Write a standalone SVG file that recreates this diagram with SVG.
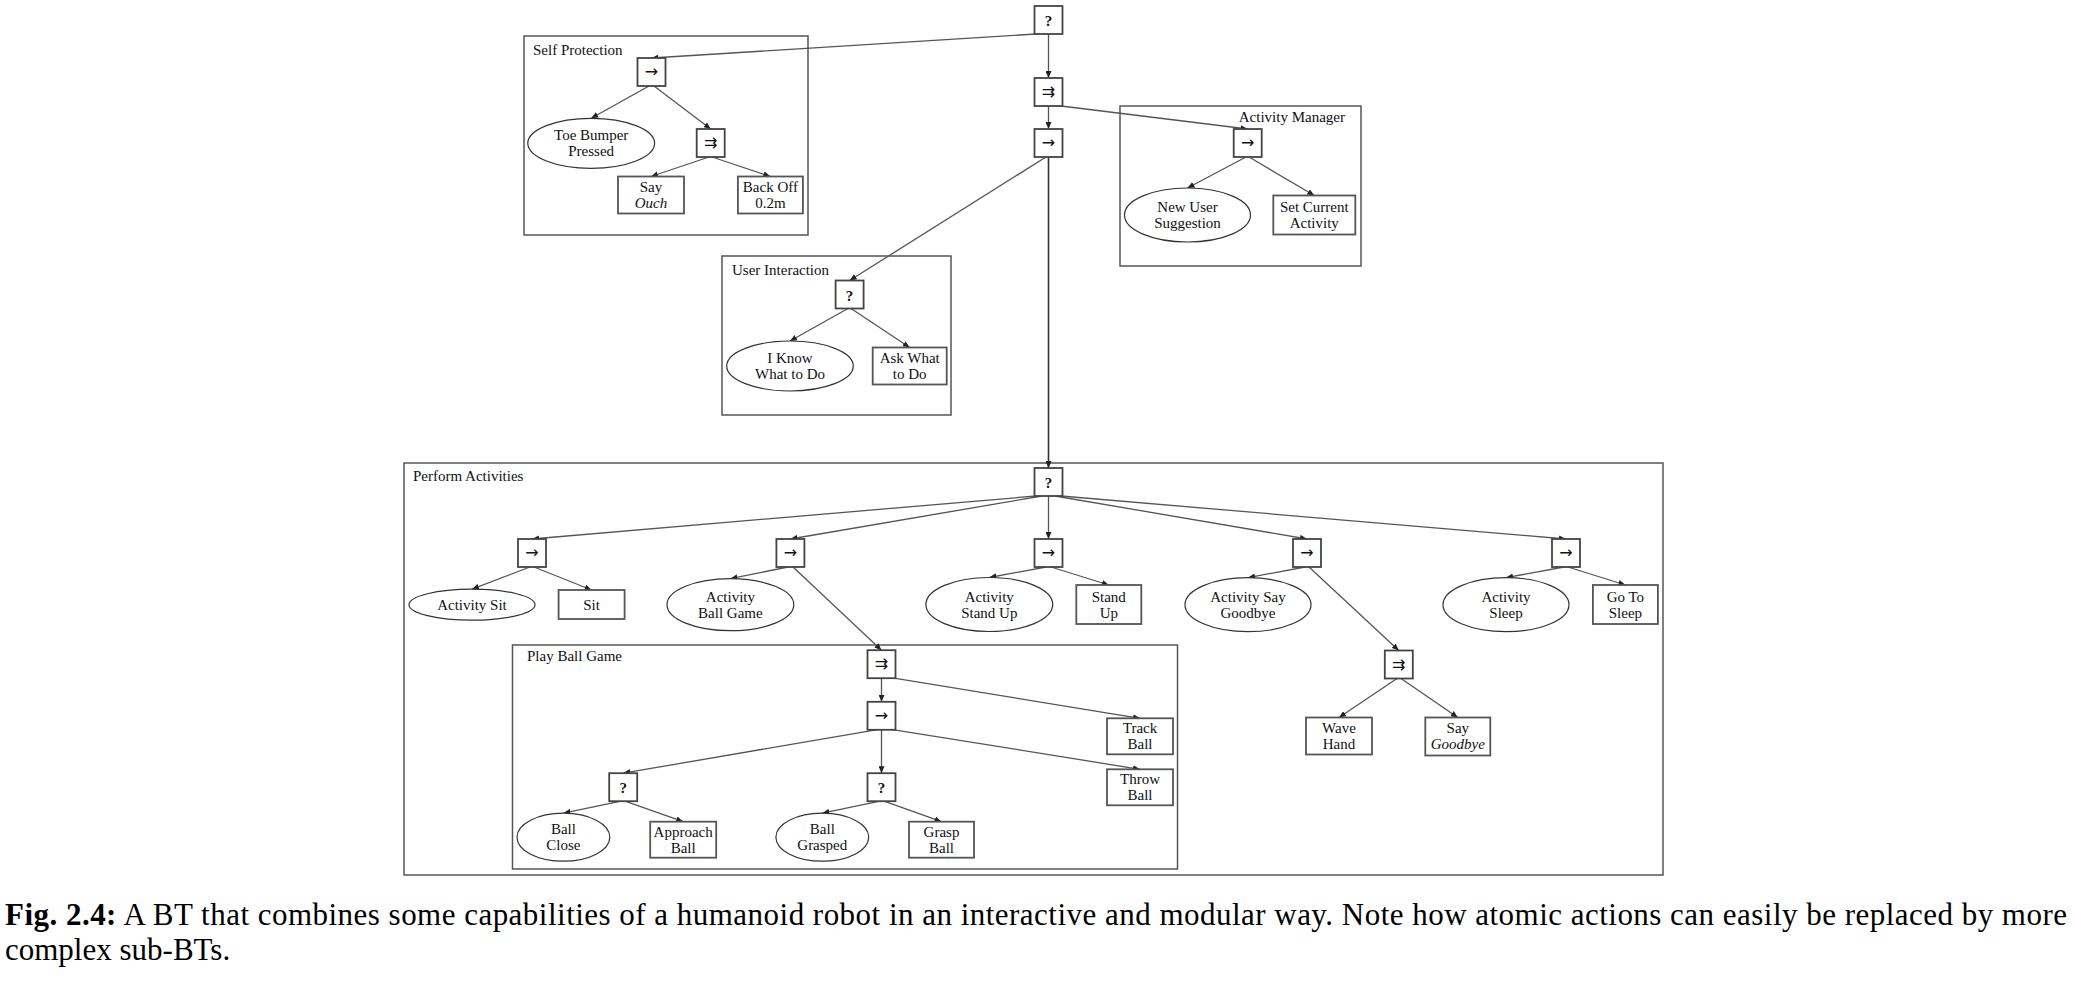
<svg xmlns="http://www.w3.org/2000/svg" width="2075" height="985" viewBox="0 0 2075 985">
<defs>
<marker id="ah" markerUnits="userSpaceOnUse" markerWidth="8" markerHeight="6" refX="7" refY="3" orient="auto">
<path d="M0,0 L7,3 L0,6 z" fill="#222"/>
</marker>
<style>
.frame{fill:none;stroke:#555;stroke-width:1.5}
.ctl{fill:#fff;stroke:#444;stroke-width:1.8}
.leaf{fill:#fff;stroke:#555;stroke-width:1.8}
.cond{fill:#fff;stroke:#333;stroke-width:1.2}
.t{font-family:"Liberation Serif",serif;font-size:15px;fill:#111;text-anchor:middle}
.fl{font-family:"Liberation Serif",serif;font-size:15px;fill:#111}
.sym{font-family:"DejaVu Sans",sans-serif;font-size:16px;fill:#111;text-anchor:middle}
.q{font-family:"Liberation Serif",serif;font-size:15px;font-weight:bold;fill:#111;text-anchor:middle}
.e{fill:none;stroke:#555;stroke-width:1.3;marker-end:url(#ah)}
.cap{font-family:"Liberation Serif",serif;font-size:31px;fill:#000}
</style>
</defs>

<g id="frames">
<rect class="frame" x="524" y="36" width="284" height="199"/>
<text class="fl" x="533" y="55">Self Protection</text>
<rect class="frame" x="1120" y="106" width="241" height="160"/>
<text class="fl" x="1345" y="122" text-anchor="end">Activity Manager</text>
<rect class="frame" x="722" y="256" width="229" height="159"/>
<text class="fl" x="732" y="275">User Interaction</text>
<rect class="frame" x="404" y="463" width="1259" height="412"/>
<text class="fl" x="413" y="481">Perform Activities</text>
<rect class="frame" x="512.5" y="645" width="665" height="224"/>
<text class="fl" x="527" y="661">Play Ball Game</text>
</g>

<g id="connectors">
<line class="e" x1="1036" y1="34" x2="651.5" y2="58"/>
<line class="e" x1="1048.5" y1="34" x2="1048.5" y2="78"/>
<line class="e" x1="1048.5" y1="106" x2="1048.5" y2="129"/>
<line class="e" x1="1061" y1="106" x2="1247.7" y2="129"/>
<line class="e" x1="1046" y1="157" x2="849.6" y2="280.5"/>
<line class="e" x1="1048.5" y1="157" x2="1048.5" y2="468" style="stroke:#333;stroke-width:1.6"/>
<line class="e" x1="649" y1="86" x2="591.2" y2="118.3"/>
<line class="e" x1="654" y1="86" x2="710.7" y2="129"/>
<line class="e" x1="709" y1="157" x2="651" y2="176.5"/>
<line class="e" x1="712" y1="157" x2="770.4" y2="176.5"/>
<line class="e" x1="1246" y1="157" x2="1187.5" y2="188"/>
<line class="e" x1="1249" y1="157" x2="1314.3" y2="195.5"/>
<line class="e" x1="848" y1="308.5" x2="790" y2="341"/>
<line class="e" x1="851" y1="308.5" x2="909.7" y2="347.5"/>
<line class="e" x1="1036" y1="496" x2="532" y2="539"/>
<line class="e" x1="1042" y1="496" x2="790.4" y2="539"/>
<line class="e" x1="1048.5" y1="496" x2="1048.5" y2="539"/>
<line class="e" x1="1055" y1="496" x2="1307" y2="539"/>
<line class="e" x1="1061" y1="496" x2="1566" y2="539"/>
<line class="e" x1="530" y1="567" x2="472" y2="589.2"/>
<line class="e" x1="534" y1="567" x2="591.6" y2="590"/>
<line class="e" x1="788" y1="567" x2="730.4" y2="578.7"/>
<line class="e" x1="793" y1="567" x2="881.5" y2="650.2"/>
<line class="e" x1="1046" y1="567" x2="989.3" y2="577.5"/>
<line class="e" x1="1051" y1="567" x2="1108.8" y2="585"/>
<line class="e" x1="1305" y1="567" x2="1248" y2="577.7"/>
<line class="e" x1="1309" y1="567" x2="1398.8" y2="650.5"/>
<line class="e" x1="1564" y1="567" x2="1506" y2="577.7"/>
<line class="e" x1="1568" y1="567" x2="1625.4" y2="585"/>
<line class="e" x1="881.5" y1="678.2" x2="881.5" y2="701.8"/>
<line class="e" x1="894" y1="678.2" x2="1140" y2="718.3"/>
<line class="e" x1="876" y1="729.8" x2="623.2" y2="773.2"/>
<line class="e" x1="881.5" y1="729.8" x2="881.5" y2="773.2"/>
<line class="e" x1="894" y1="729.8" x2="1140" y2="769.3"/>
<line class="e" x1="621" y1="801.2" x2="563.4" y2="813.2"/>
<line class="e" x1="625" y1="801.2" x2="683.2" y2="821.7"/>
<line class="e" x1="880" y1="801.2" x2="822.3" y2="813.2"/>
<line class="e" x1="884" y1="801.2" x2="941.5" y2="821.7"/>
<line class="e" x1="1397" y1="678.5" x2="1339" y2="717.5"/>
<line class="e" x1="1401" y1="678.5" x2="1457.8" y2="717.5"/>
</g>

<g id="root"><rect class="ctl" x="1034.5" y="6" width="28" height="28"/><text class="q" x="1048.5" y="26">?</text></g>
<g id="main-par"><rect class="ctl" x="1034.5" y="78" width="28" height="28"/><text class="sym" x="1048.5" y="97">⇉</text></g>
<g id="main-seq"><rect class="ctl" x="1034.5" y="129" width="28" height="28"/><text class="sym" x="1048.5" y="148">→</text></g>

<g id="sp-seq"><rect class="ctl" x="637.5" y="58" width="28" height="28"/><text class="sym" x="651.5" y="77">→</text></g>
<g id="toe-bumper"><ellipse class="cond" cx="591.2" cy="143.3" rx="63.4" ry="25"/><text class="t" x="591.2" y="140.3">Toe Bumper</text><text class="t" x="591.2" y="156.3">Pressed</text></g>
<g id="sp-par"><rect class="ctl" x="696.7" y="129" width="28" height="28"/><text class="sym" x="710.7" y="148">⇉</text></g>
<g id="say-ouch"><rect class="leaf" x="618" y="176.5" width="66" height="37"/><text class="t" x="651" y="192">Say</text><text class="t" x="651" y="208" font-style="italic">Ouch</text></g>
<g id="back-off"><rect class="leaf" x="737.9" y="176.5" width="65" height="37"/><text class="t" x="770.4" y="192">Back Off</text><text class="t" x="770.4" y="208">0.2m</text></g>

<g id="am-seq"><rect class="ctl" x="1233.7" y="129" width="28" height="28"/><text class="sym" x="1247.7" y="148">→</text></g>
<g id="new-user-suggestion"><ellipse class="cond" cx="1187.5" cy="215" rx="63" ry="27"/><text class="t" x="1187.5" y="212">New User</text><text class="t" x="1187.5" y="228">Suggestion</text></g>
<g id="set-current-activity"><rect class="leaf" x="1273.3" y="195.5" width="82" height="39"/><text class="t" x="1314.3" y="212">Set Current</text><text class="t" x="1314.3" y="228">Activity</text></g>

<g id="ui-q"><rect class="ctl" x="835.6" y="280.5" width="28" height="28"/><text class="q" x="849.6" y="300.5">?</text></g>
<g id="i-know"><ellipse class="cond" cx="790" cy="366" rx="63.3" ry="25"/><text class="t" x="790" y="363">I Know</text><text class="t" x="790" y="379">What to Do</text></g>
<g id="ask-what"><rect class="leaf" x="872.7" y="347.5" width="74" height="37"/><text class="t" x="909.7" y="363">Ask What</text><text class="t" x="909.7" y="379">to Do</text></g>

<g id="pa-q"><rect class="ctl" x="1034.5" y="468" width="28" height="28"/><text class="q" x="1048.5" y="488">?</text></g>
<g id="seq-sit"><rect class="ctl" x="518" y="539" width="28" height="28"/><text class="sym" x="532" y="558">→</text></g>
<g id="seq-ball"><rect class="ctl" x="776.4" y="539" width="28" height="28"/><text class="sym" x="790.4" y="558">→</text></g>
<g id="seq-stand"><rect class="ctl" x="1034.5" y="539" width="28" height="28"/><text class="sym" x="1048.5" y="558">→</text></g>
<g id="seq-goodbye"><rect class="ctl" x="1293" y="539" width="28" height="28"/><text class="sym" x="1307" y="558">→</text></g>
<g id="seq-sleep"><rect class="ctl" x="1552" y="539" width="28" height="28"/><text class="sym" x="1566" y="558">→</text></g>

<g id="activity-sit"><ellipse class="cond" cx="472" cy="604.7" rx="63" ry="15.5"/><text class="t" x="472" y="609.7">Activity Sit</text></g>
<g id="sit"><rect class="leaf" x="558.6" y="590" width="66" height="29"/><text class="t" x="591.6" y="609.5">Sit</text></g>
<g id="activity-ball-game"><ellipse class="cond" cx="730.4" cy="604.7" rx="63.4" ry="26"/><text class="t" x="730.4" y="601.7">Activity</text><text class="t" x="730.4" y="617.7">Ball Game</text></g>
<g id="activity-stand-up"><ellipse class="cond" cx="989.3" cy="604.5" rx="63.4" ry="27"/><text class="t" x="989.3" y="601.5">Activity</text><text class="t" x="989.3" y="617.5">Stand Up</text></g>
<g id="stand-up"><rect class="leaf" x="1076.3" y="585" width="65" height="39"/><text class="t" x="1108.8" y="601.5">Stand</text><text class="t" x="1108.8" y="617.5">Up</text></g>
<g id="activity-say-goodbye"><ellipse class="cond" cx="1248" cy="604.7" rx="63" ry="27"/><text class="t" x="1248" y="601.7">Activity Say</text><text class="t" x="1248" y="617.7">Goodbye</text></g>
<g id="activity-sleep"><ellipse class="cond" cx="1506" cy="604.7" rx="63" ry="27"/><text class="t" x="1506" y="601.7">Activity</text><text class="t" x="1506" y="617.7">Sleep</text></g>
<g id="go-to-sleep"><rect class="leaf" x="1592.9" y="585" width="65" height="39"/><text class="t" x="1625.4" y="601.5">Go To</text><text class="t" x="1625.4" y="617.5">Sleep</text></g>

<g id="pbg-par"><rect class="ctl" x="867.5" y="650.2" width="28" height="28"/><text class="sym" x="881.5" y="669.2">⇉</text></g>
<g id="pbg-seq"><rect class="ctl" x="867.5" y="701.8" width="28" height="28"/><text class="sym" x="881.5" y="720.8">→</text></g>
<g id="track-ball"><rect class="leaf" x="1107" y="718.3" width="66" height="36"/><text class="t" x="1140" y="733.3">Track</text><text class="t" x="1140" y="749.3">Ball</text></g>
<g id="throw-ball"><rect class="leaf" x="1107" y="769.3" width="66" height="36"/><text class="t" x="1140" y="784.3">Throw</text><text class="t" x="1140" y="800.3">Ball</text></g>
<g id="q-close"><rect class="ctl" x="609.2" y="773.2" width="28" height="28"/><text class="q" x="623.2" y="793.2">?</text></g>
<g id="q-grasp"><rect class="ctl" x="867.5" y="773.2" width="28" height="28"/><text class="q" x="881.5" y="793.2">?</text></g>
<g id="ball-close"><ellipse class="cond" cx="563.4" cy="837.2" rx="46.4" ry="24"/><text class="t" x="563.4" y="834.2">Ball</text><text class="t" x="563.4" y="850.2">Close</text></g>
<g id="approach-ball"><rect class="leaf" x="650.2" y="821.7" width="66" height="36"/><text class="t" x="683.2" y="836.7">Approach</text><text class="t" x="683.2" y="852.7">Ball</text></g>
<g id="ball-grasped"><ellipse class="cond" cx="822.3" cy="837.2" rx="46.4" ry="24"/><text class="t" x="822.3" y="834.2">Ball</text><text class="t" x="822.3" y="850.2">Grasped</text></g>
<g id="grasp-ball"><rect class="leaf" x="909" y="821.7" width="65" height="36"/><text class="t" x="941.5" y="836.7">Grasp</text><text class="t" x="941.5" y="852.7">Ball</text></g>

<g id="sg-par"><rect class="ctl" x="1384.8" y="650.5" width="28" height="28"/><text class="sym" x="1398.8" y="669.5">⇉</text></g>
<g id="wave-hand"><rect class="leaf" x="1306" y="717.5" width="66" height="37"/><text class="t" x="1339" y="733">Wave</text><text class="t" x="1339" y="749">Hand</text></g>
<g id="say-goodbye"><rect class="leaf" x="1425.3" y="717.5" width="65" height="38"/><text class="t" x="1457.8" y="733">Say</text><text class="t" x="1457.8" y="749" font-style="italic">Goodbye</text></g>

<g id="caption">
<text class="cap" x="5" y="925" textLength="2062" lengthAdjust="spacing"><tspan font-weight="bold">Fig. 2.4:</tspan> A BT that combines some capabilities of a humanoid robot in an interactive and modular way. Note how atomic actions can easily be replaced by more</text>
<text class="cap" x="5" y="960">complex sub-BTs.</text>
</g>
</svg>
